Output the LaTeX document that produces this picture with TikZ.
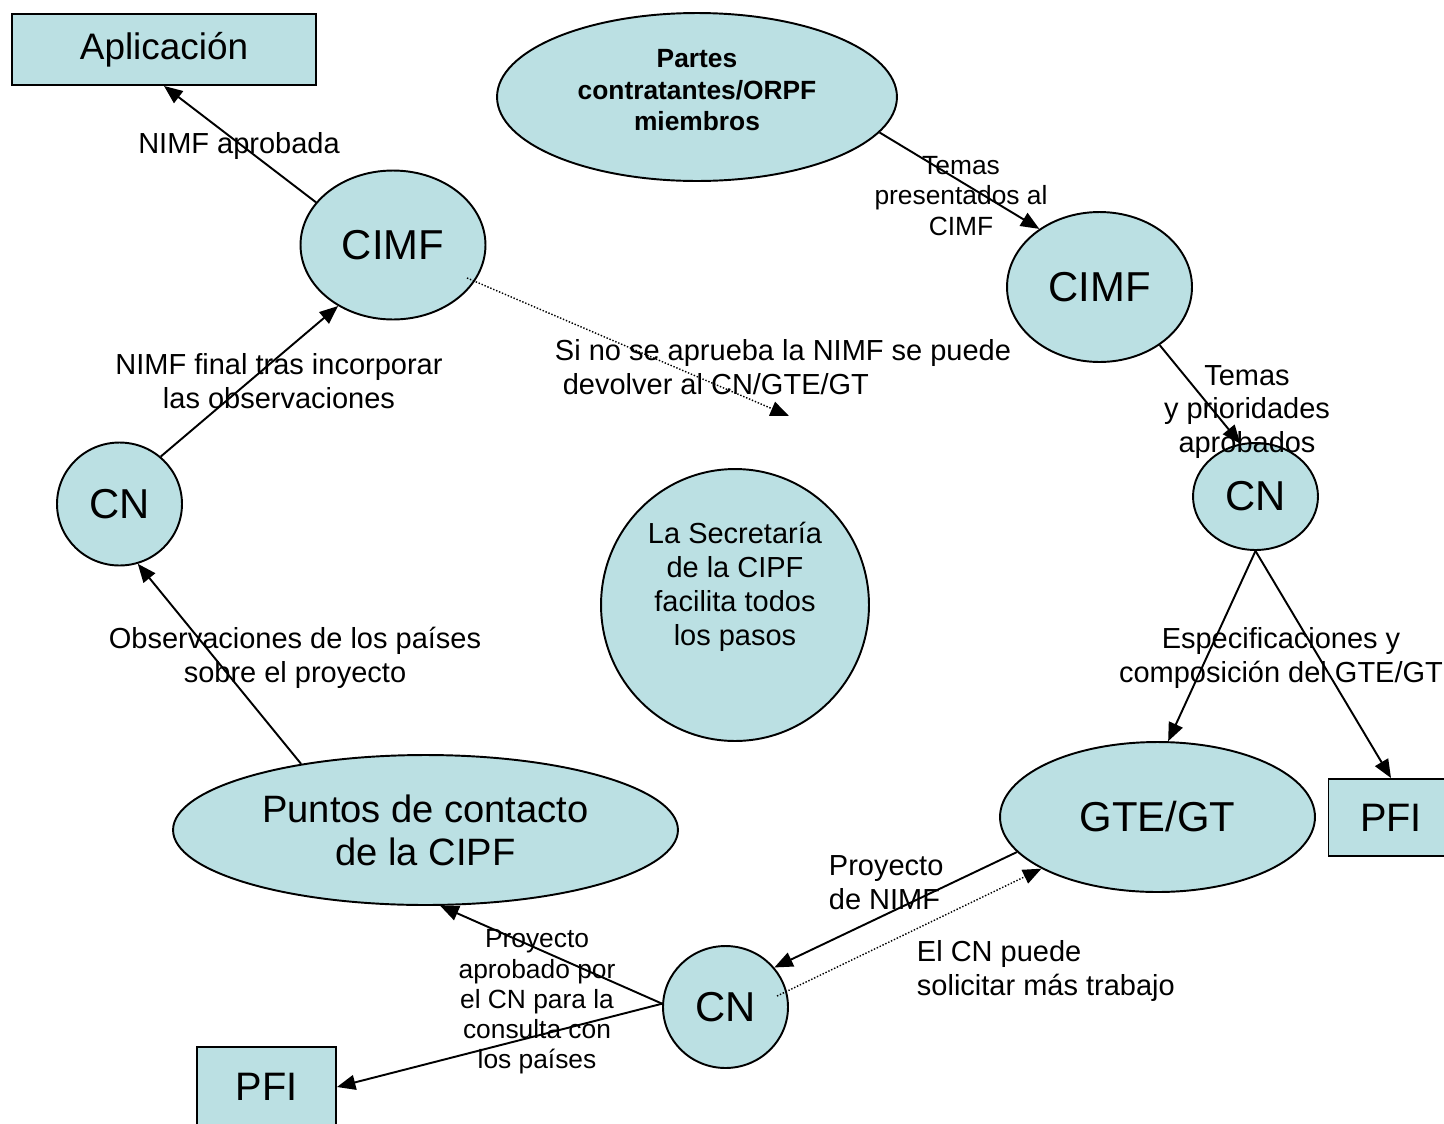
\documentclass[tikz,border=0pt]{standalone}
\usepackage{fontspec}
\setmainfont{Liberation Sans}
\usetikzlibrary{arrows.meta, shapes.geometric}
\definecolor{ippc}{RGB}{187,224,227}
\tikzstyle{box}=[draw, fill=ippc, inner sep=0pt]
\tikzstyle{oval}=[ellipse, draw, fill=ippc, inner sep=0pt, align=center]
\tikzstyle{lbl}=[align=center, inner sep=0pt, font=\lbltxt]
\newcommand{\bigtxt}{\fontsize{23.8}{27}\selectfont}
\newcommand{\lbltxt}{\fontsize{16.5}{19.3}\selectfont}
\newcommand{\smalltxt}{\fontsize{15}{17.2}\selectfont}

\begin{document}
\begin{tikzpicture}[x=0.02cm, y=-0.02cm, >={Triangle[length=10.5pt, width=8.5pt]}, line width=1.1pt]
\useasboundingbox (0,0) rectangle (1444,1123);
\clip (0,0) rectangle (1444,1123);
% boxes
\node[box, minimum width=6.08cm, minimum height=1.42cm, font=\fontsize{21}{24}\selectfont] (apl) at (164,49.5) {Aplicación};
\node[box, minimum width=2.5cm, minimum height=1.54cm, font=\fontsize{22.6}{26}\selectfont] (pfiR) at (1391,817.5) {PFI};
\node[box, minimum width=2.78cm, minimum height=1.6cm, font=\fontsize{22.6}{26}\selectfont] (pfiL) at (266.5,1087) {PFI};
% ovals
\node[oval, minimum width=8cm, minimum height=3.36cm, font=\bfseries\fontsize{15}{17.9}\selectfont] (partes) at (697,97) {Partes\\contratantes/ORPF\\miembros\\[-10pt]\mbox{}};
\node[oval, minimum width=3.7cm, minimum height=2.98cm, font=\bigtxt] (cimfL) at (393,245) {CIMF};
\node[oval, minimum width=3.7cm, minimum height=3cm, font=\bigtxt] (cimfR) at (1099.5,287) {CIMF};
\node[oval, minimum width=2.5cm, minimum height=2.14cm, font=\bigtxt] (cnR) at (1255.5,496.5) {CN};
\node[oval, minimum width=2.5cm, minimum height=2.46cm, font=\bigtxt] (cnL) at (119.5,504) {CN};
\node[oval, minimum width=2.5cm, minimum height=2.44cm, font=\bigtxt] (cnB) at (725.5,1007) {CN};
\node[oval, minimum width=5.36cm, minimum height=5.44cm] (secr) at (735,605) {};
\node[lbl] (secrtxt) at (735,587) {La Secretaría\\de la CIPF\\facilita todos\\los pasos};
\node[oval, minimum width=10.1cm, minimum height=3cm, font=\fontsize{21.7}{24.4}\selectfont] (puntos) at (425.5,830) {Puntos de contacto\\de la CIPF};
\node[oval, minimum width=6.3cm, minimum height=3cm, font=\bigtxt] (gte) at (1157.5,817) {GTE/GT};
% labels
\node[lbl] (lapr) at (239,146) {NIMF aprobada};
\node[lbl, font=\smalltxt] (lpres) at (961,196) {Temas\\presentados al\\CIMF};
\node[lbl] (lfinal) at (279,381) {NIMF final tras incorporar\\las observaciones};
\node[lbl, align=left, anchor=west] (ldev) at (554,367) {Si no se aprueba la NIMF se puede\\\hspace*{4.5pt}devolver al CN/GTE/GT};
\node[lbl] (lprio) at (1247,412) {Temas\\y prioridades\\aprobados};
\node[lbl] (lespec) at (1281,658) {Especificaciones y\\composición del GTE/GT};
\node[lbl] (lobs) at (295,658) {Observaciones de los países\\sobre el proyecto};
\node[lbl, font=\smalltxt] (lcons) at (537,1002) {Proyecto\\aprobado por\\el CN para la\\consulta con\\los países};
\node[lbl, align=left, anchor=west] (lproy) at (828,883) {Proyecto\\de NIMF};
\node[lbl, align=left, anchor=west] (lsol) at (916,971) {El CN puede\\solicitar más trabajo};
% free ends
\coordinate (cimfLin) at (467,278);
\coordinate (retEnd) at (789,416);
\coordinate (cnBin) at (777,996);
% connectors
\draw[->] (cimfL.151) -- (apl.south);
\draw[->] (cnL.49) -- (cimfL.228);
\draw[->] (puntos.152) -- (cnL.287);
\draw[->] (cnB.177) -- (puntos.281);
\draw[->] (cnB.177) -- (pfiL.east);
\draw[->] (gte.194) -- (cnB.39);
\draw[->, densely dotted, line width=0.8pt] (cnBin) -- (gte.204);
\draw[->, densely dotted, line width=0.8pt] (cimfLin) -- (retEnd);
\draw[->] (partes.349) -- (cimfR.136);
\draw[->] (cimfR.316) -- (cnR.106);
\draw[->] (cnR.south) -- (gte.82);
\draw[->] (cnR.south) -- (pfiR.north);
\end{tikzpicture}
\end{document}
